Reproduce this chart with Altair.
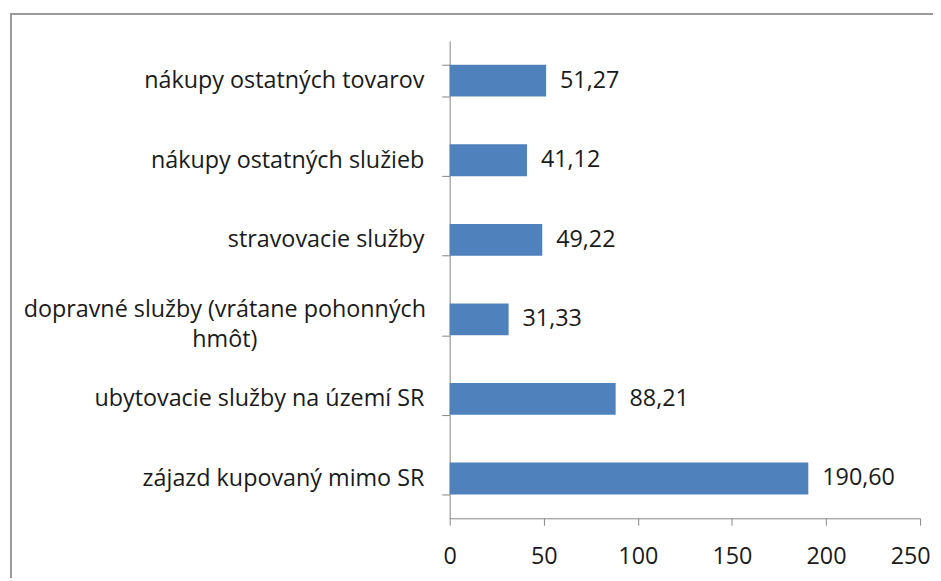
import altair as alt
import pandas as pd

categories = [
    "nákupy ostatných tovarov",
    "nákupy ostatných služieb",
    "stravovacie služby",
    "dopravné služby (vrátane pohonných hmôt)",
    "ubytovacie služby na území SR",
    "zájazd kupovaný mimo SR",
]
values = [51.27, 41.12, 49.22, 31.33, 88.21, 190.60]
x_ticks = [0, 50, 100, 150, 200, 250]

df = pd.DataFrame({"kat": categories, "hodnota": values})

FONT = "Open Sans"
FS = 23.5
LONG = "dopravné služby (vrátane pohonných hmôt)"
IS_LONG = f"datum.value == '{LONG}'"

y_enc = alt.Y(
    "kat:N",
    sort=categories,
    scale=alt.Scale(paddingInner=0.6, paddingOuter=0.3),
    axis=alt.Axis(
        title=None,
        tickBand="extent",
        tickSize=8,
        tickColor="#868686",
        domainColor="#868686",
        labelFont=FONT,
        labelFontSize=FS,
        labelColor="#1a1a1a",
        labelLimit=600,
        labelLineHeight=30,
        labelExpr=f"{IS_LONG} ? ['dopravné služby (vrátane pohonných', 'hmôt)'] : datum.label",
        labelAlign={"condition": {"test": IS_LONG, "value": "center"}, "value": "right"},
        labelPadding={"condition": {"test": IS_LONG, "value": 219}, "value": 18},
        labelOffset={"condition": {"test": IS_LONG, "value": -10}, "value": 0},
    ),
)

x_enc = alt.X(
    "hodnota:Q",
    scale=alt.Scale(domain=[0, 250], nice=False),
    axis=alt.Axis(
        title=None,
        values=x_ticks,
        grid=False,
        tickSize=7,
        tickColor="#868686",
        domainColor="#868686",
        labelFont=FONT,
        labelFontSize=FS,
        labelColor="#1a1a1a",
        labelPadding=20,
        labelFlush=False,
        labelOffset={"condition": {"test": "datum.value == 250", "value": -10}, "value": 0},
    ),
)

bars = alt.Chart(df).mark_bar(color="#4F81BD").encode(y=y_enc, x=x_enc)

texts = (
    alt.Chart(df)
    .transform_calculate(lbl="replace(format(datum.hodnota, '.2f'), '.', ',')")
    .mark_text(align="left", baseline="middle", dx=14, font=FONT, fontSize=FS, color="#1a1a1a")
    .encode(y=alt.Y("kat:N", sort=categories), x="hodnota:Q", text="lbl:N")
)

frame = (
    alt.Chart(pd.DataFrame({"a": [0]}))
    .mark_rect(fill=None, stroke="#9a9a9a", strokeWidth=2, clip=False)
    .encode(
        x=alt.value(-442),
        x2=alt.value(530),
        y=alt.value(-27),
        y2=alt.value(580),
    )
)

chart = (
    alt.layer(frame, bars, texts)
    .properties(
        width=474,
        height=481,
        autosize=alt.AutoSizeParams(type="none"),
        padding={"left": 445, "top": 31, "right": 13, "bottom": 58},
        background="white",
    )
    .configure_view(stroke=None)
)

chart.save("out.html", embed_options={"renderer": "svg", "actions": False})
